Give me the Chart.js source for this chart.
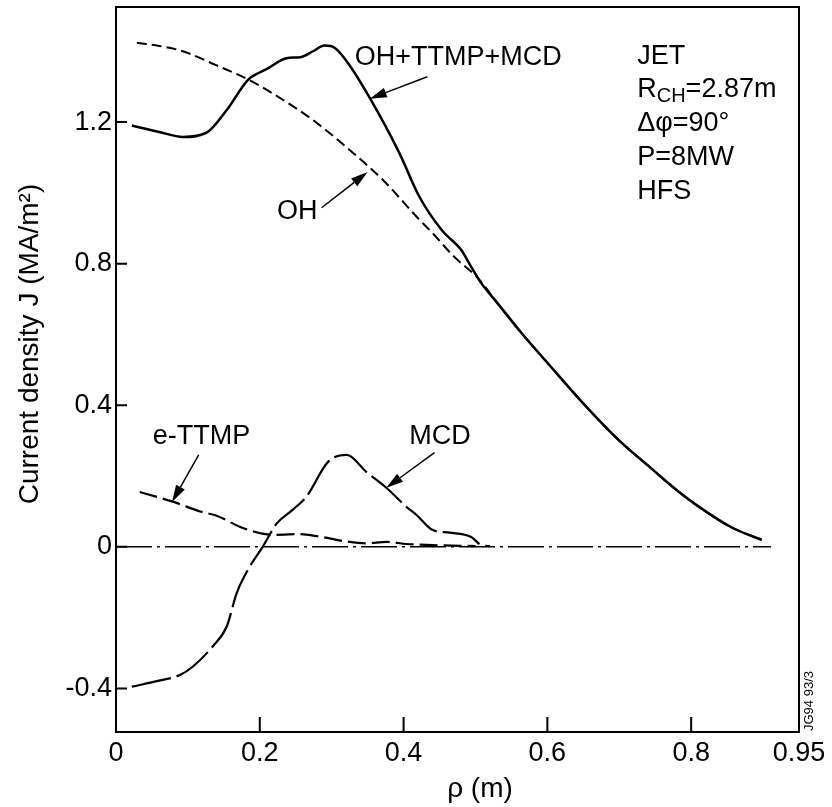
<!DOCTYPE html>
<html>
<head>
<meta charset="utf-8">
<script src="https://cdn.jsdelivr.net/npm/chart.js@4.4.0/dist/chart.umd.min.js"></script>
<style>
  body { margin: 0; background: #fff; }
  #wrap { width: 832px; height: 807px; }
</style>
</head>
<body>
<div id="wrap"><canvas id="chart" width="832" height="807"></canvas></div>
<script>
// Data (rho in m, J in MA/m^2)
const totalRho = [0.022, 0.06, 0.093, 0.126, 0.154, 0.184, 0.21, 0.237, 0.258, 0.274, 0.29, 0.304, 0.325, 0.353, 0.394, 0.422, 0.453, 0.48, 0.494, 0.508, 0.53, 0.564, 0.6, 0.654, 0.7, 0.742, 0.78, 0.811, 0.857, 0.898];
const totalJ   = [1.19, 1.172, 1.158, 1.17, 1.234, 1.32, 1.35, 1.38, 1.384, 1.40, 1.416, 1.41, 1.36, 1.268, 1.113, 0.989, 0.895, 0.839, 0.791, 0.745, 0.69, 0.604, 0.52, 0.396, 0.30, 0.226, 0.16, 0.113, 0.054, 0.02];

const ohRho = [0.029, 0.06, 0.093, 0.14, 0.184, 0.232, 0.279, 0.325, 0.371, 0.422, 0.44, 0.47, 0.503, 0.53, 0.564, 0.6, 0.654, 0.7, 0.742, 0.78, 0.811, 0.857, 0.898];
const ohJ   = [1.424, 1.415, 1.40, 1.36, 1.32, 1.263, 1.198, 1.121, 1.037, 0.924, 0.887, 0.82, 0.76, 0.69, 0.604, 0.52, 0.396, 0.30, 0.226, 0.16, 0.113, 0.054, 0.02];

const mcdRho = [0.022, 0.06, 0.089, 0.107, 0.135, 0.154, 0.168, 0.186, 0.204, 0.224, 0.246, 0.265, 0.295, 0.321, 0.348, 0.376, 0.404, 0.418, 0.44, 0.464, 0.494, 0.508, 0.52];
const mcdJ   = [-0.395, -0.378, -0.362, -0.338, -0.28, -0.225, -0.13, -0.056, 0, 0.067, 0.105, 0.142, 0.24, 0.26, 0.212, 0.167, 0.113, 0.09, 0.048, 0.04, 0.028, 0.005, 0.002];

const ttmpRho = [0.033, 0.08, 0.117, 0.14, 0.172, 0.2, 0.224, 0.256, 0.283, 0.321, 0.348, 0.376, 0.404, 0.44, 0.48, 0.5];
const ttmpJ   = [0.155, 0.127, 0.1, 0.088, 0.057, 0.039, 0.034, 0.036, 0.029, 0.015, 0.01, 0.014, 0.008, 0.005, 0.003, 0.002];

const zeroRho = [0, 0.911];
const zeroJ   = [0, 0];

// Axes
const xTicks = [0, 0.2, 0.4, 0.6, 0.8, 0.95];
const xTickLabels = ['0', '0.2', '0.4', '0.6', '0.8', '0.95'];
const yTicks = [-0.4, 0, 0.4, 0.8, 1.2];
const yTickLabels = ['-0.4', '0', '0.4', '0.8', '1.2'];

// Annotation text and arrows (data coords)
const labels = [
  { text: 'OH+TTMP+MCD', x: 0.332, y: 1.381 },
  { text: 'OH', x: 0.224, y: 0.946 },
  { text: 'e-TTMP', x: 0.051, y: 0.311 },
  { text: 'MCD', x: 0.408, y: 0.311 }
];
const arrows = [
  { from: [0.433, 1.328], to: [0.353, 1.266] },
  { from: [0.286, 0.958], to: [0.35, 1.059] },
  { from: [0.115, 0.26], to: [0.078, 0.127] },
  { from: [0.443, 0.266], to: [0.376, 0.167] }
];
const infoX = 0.725;
const infoY = [1.384, 1.291, 1.195, 1.099, 1.003];

const FONT = '"Liberation Sans", Arial, Helvetica, sans-serif';

function pts(xs, ys) {
  return xs.map((x, i) => ({ x: x, y: ys[i] }));
}

function series(xs, ys, width, dash) {
  return {
    data: pts(xs, ys),
    borderColor: '#000',
    borderWidth: width,
    borderDash: dash,
    pointRadius: 0,
    fill: false,
    cubicInterpolationMode: 'monotone'
  };
}

// Frame, inward ticks, titles and annotations
const decor = {
  id: 'decor',
  afterDraw(chart) {
    const ctx = chart.ctx;
    const a = chart.chartArea;
    const xs = chart.scales.x, ys = chart.scales.y;
    ctx.save();
    ctx.strokeStyle = '#000';
    ctx.fillStyle = '#000';
    ctx.lineWidth = 2;
    ctx.strokeRect(a.left, a.top, a.right - a.left, a.bottom - a.top);

    // tick marks
    ctx.beginPath();
    yTicks.forEach(v => {
      const py = ys.getPixelForValue(v);
      ctx.moveTo(a.left, py); ctx.lineTo(a.left + 11, py);
    });
    xTicks.slice(1, -1).forEach(v => {
      const px = xs.getPixelForValue(v);
      ctx.moveTo(px, a.bottom); ctx.lineTo(px, a.bottom - 15);
    });
    ctx.stroke();

    // axis titles
    ctx.font = '28px ' + FONT;
    ctx.textAlign = 'center';
    ctx.textBaseline = 'middle';
    ctx.fillText('\u03c1 (m)', 480, 789);
    ctx.save();
    ctx.translate(30, 344);
    ctx.rotate(-Math.PI / 2);
    ctx.fillText('Current density J (MA/m\u00b2)', 0, 0);
    ctx.restore();

    // curve labels
    ctx.font = '27px ' + FONT;
    ctx.textAlign = 'left';
    labels.forEach(l => {
      ctx.fillText(l.text, xs.getPixelForValue(l.x), ys.getPixelForValue(l.y));
    });

    // arrows
    ctx.lineWidth = 1.5;
    arrows.forEach(ar => {
      const x0 = xs.getPixelForValue(ar.from[0]), y0 = ys.getPixelForValue(ar.from[1]);
      const x1 = xs.getPixelForValue(ar.to[0]), y1 = ys.getPixelForValue(ar.to[1]);
      const ang = Math.atan2(y1 - y0, x1 - x0);
      const len = 17, half = 5;
      const bx = x1 - len * Math.cos(ang), by = y1 - len * Math.sin(ang);
      ctx.beginPath();
      ctx.moveTo(x0, y0); ctx.lineTo(bx, by);
      ctx.stroke();
      ctx.beginPath();
      ctx.moveTo(x1, y1);
      ctx.lineTo(bx + half * Math.sin(ang), by - half * Math.cos(ang));
      ctx.lineTo(bx - half * Math.sin(ang), by + half * Math.cos(ang));
      ctx.closePath();
      ctx.fill();
    });

    // info block
    const ix = xs.getPixelForValue(infoX);
    ctx.fillText('JET', ix, ys.getPixelForValue(infoY[0]));
    let py = ys.getPixelForValue(infoY[1]);
    ctx.fillText('R', ix, py);
    let w = ctx.measureText('R').width;
    ctx.font = '20px ' + FONT;
    ctx.fillText('CH', ix + w, py + 7);
    w += ctx.measureText('CH').width;
    ctx.font = '27px ' + FONT;
    ctx.fillText('=2.87m', ix + w, py);
    ctx.fillText('\u0394\u03c6=90\u00b0', ix, ys.getPixelForValue(infoY[2]));
    ctx.fillText('P=8MW', ix, ys.getPixelForValue(infoY[3]));
    ctx.fillText('HFS', ix, ys.getPixelForValue(infoY[4]));

    // figure code
    ctx.font = '13px ' + FONT;
    ctx.textAlign = 'center';
    ctx.save();
    ctx.translate(809, 701);
    ctx.rotate(-Math.PI / 2);
    ctx.fillText('JG94 93/3', 0, 0);
    ctx.restore();
    ctx.restore();
  }
};

new Chart(document.getElementById('chart'), {
  type: 'line',
  data: {
    datasets: [
      series(zeroRho, zeroJ, 1.5, [36, 5, 3, 5]),
      series(ohRho, ohJ, 2, [10, 5]),
      series(ttmpRho, ttmpJ, 2.2, [18, 6]),
      series(mcdRho, mcdJ, 2.2, [40, 6]),
      series(totalRho, totalJ, 2.5, [])
    ]
  },
  options: {
    responsive: false,
    animation: false,
    layout: { padding: { top: 7, right: 33, left: 0, bottom: 0 } },
    plugins: { legend: { display: false }, tooltip: { enabled: false } },
    scales: {
      x: {
        type: 'linear',
        min: 0,
        max: 0.95,
        grid: { display: false, drawTicks: false },
        border: { display: false },
        afterBuildTicks: s => { s.ticks = xTicks.map(v => ({ value: v })); },
        afterFit: s => { s.height = 75; s.paddingLeft = 0; s.paddingRight = 0; },
        ticks: {
          color: '#000',
          padding: 5,
          maxRotation: 0,
          font: { family: FONT, size: 27 },
          callback: v => xTickLabels[xTicks.indexOf(v)]
        }
      },
      y: {
        type: 'linear',
        min: -0.523,
        max: 1.525,
        grid: { display: false, drawTicks: false },
        border: { display: false },
        afterBuildTicks: s => { s.ticks = yTicks.map(v => ({ value: v })); },
        afterFit: s => { s.width = 116; s.paddingTop = 0; s.paddingBottom = 0; },
        ticks: {
          color: '#000',
          padding: 4,
          font: { family: FONT, size: 27 },
          callback: v => yTickLabels[yTicks.indexOf(v)]
        }
      }
    }
  },
  plugins: [decor]
});
</script>
</body>
</html>
